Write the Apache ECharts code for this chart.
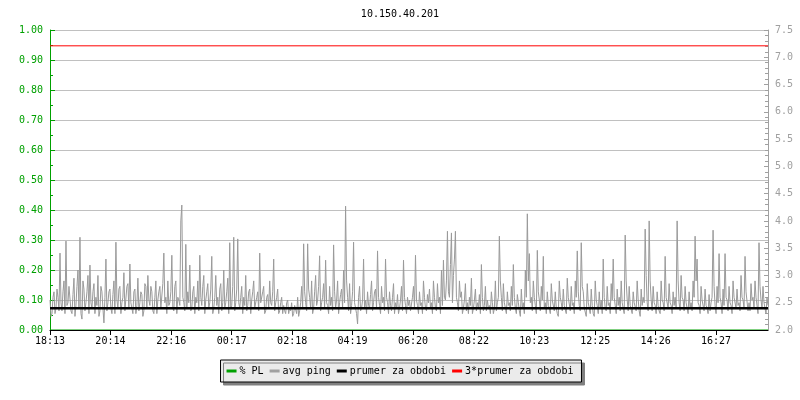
<!DOCTYPE html>
<html>
<head>
<meta charset="utf-8">
<script src="https://cdn.jsdelivr.net/npm/echarts@6/dist/echarts.min.js"></script>
<style>html,body{margin:0;padding:0;background:#fff}#c{width:800px;height:400px}</style>
</head>
<body>
<div id="c"></div>
<script>
const titleText = '10.150.40.201';
const timeLabels = ['18:13','20:14','22:16','00:17','02:18','04:19','06:20','08:22','10:23','12:25','14:26','16:27'];
const tickMinutes = [0,121,243,364,485,606,727,849,970,1092,1213,1334];
const spanMinutes = 1438;
const stepMinutes = 2;
const plValue = 0;
const prumer = 2.40;
const prumer3 = 7.21;
// avg ping samples at even positions
const avgPingEven = [
2.55,2.3,2.7,2.4,2.6,3.41,2.35,2.9,3.63,2.5,
2.8,2.3,2.95,2.45,3.1,3.70,2.2,2.75,2.5,3.0,
3.19,2.4,2.85,2.6,3.0,2.35,2.7,2.13,3.30,2.5,
2.75,2.3,2.9,3.61,2.4,2.8,2.5,3.05,2.35,2.85,
3.21,2.4,2.7,2.3,2.95,2.5,2.65,2.35,2.8,3.0,
2.45,2.7,2.3,2.9,2.55,2.8,2.4,3.41,2.6,2.9,
2.5,3.37,2.35,2.9,2.6,2.45,4.29,2.5,3.57,2.7,
3.19,2.4,2.8,2.6,2.9,3.37,2.45,3.0,2.55,2.85,
2.5,3.35,2.4,3.0,2.6,2.75,2.35,3.1,2.5,2.95,
3.6,2.45,3.70,2.5,3.67,2.4,2.8,2.6,3.0,2.45,
2.75,2.55,2.9,2.4,2.7,3.41,2.5,2.8,2.35,2.65,
2.9,2.45,3.3,2.5,2.75,2.35,2.6,2.45,2.3,2.55,
2.4,2.5,2.3,2.45,2.6,2.35,2.8,3.58,2.5,3.58,
2.6,2.9,2.4,3.0,2.55,3.36,2.5,2.85,3.28,2.45,
2.8,2.6,3.56,2.4,2.9,2.5,2.75,3.1,4.27,2.6,
2.85,2.45,3.61,2.5,2.11,2.8,2.4,3.3,2.55,2.7,
2.4,2.9,2.5,2.75,3.45,2.45,2.8,2.6,3.3,2.5,
2.7,2.35,2.85,2.5,2.65,2.4,2.8,3.28,2.45,2.6,
2.55,2.35,2.8,3.37,2.45,2.7,2.5,2.9,2.4,2.65,
2.75,2.5,2.9,2.4,2.85,2.6,3.1,3.28,2.55,3.81,
2.6,3.78,3.0,3.81,2.5,2.9,2.7,2.4,2.85,2.5,
2.6,2.95,2.4,2.75,2.5,2.65,3.2,2.35,2.8,2.55,
2.45,2.7,2.3,2.9,2.5,3.72,2.6,2.85,2.4,2.7,
2.5,2.8,3.2,2.4,2.65,2.35,2.75,2.5,3.1,4.13,
3.4,2.6,2.9,2.45,3.46,2.55,2.8,3.35,2.5,2.7,
2.4,2.85,2.55,2.7,2.3,2.9,2.5,2.75,2.45,2.95,
2.6,2.8,2.5,2.9,3.45,2.45,3.6,2.7,2.4,2.85,
2.5,2.75,2.3,2.9,2.45,2.7,2.55,3.3,2.4,2.8,
2.5,2.85,3.3,2.45,2.75,2.6,2.9,2.4,3.74,2.55,
2.8,2.45,2.7,2.5,2.9,2.35,2.75,2.6,3.85,2.5,
4.0,2.55,2.8,2.45,2.7,2.35,2.9,2.5,3.35,2.6,
2.85,2.45,2.7,2.6,4.0,2.5,3.0,2.55,2.8,2.4,
2.7,2.5,2.9,3.72,3.3,2.45,2.8,2.55,2.75,2.4,
2.65,2.5,3.83,2.45,2.8,3.4,2.5,2.75,3.4,2.55,
2.8,2.45,2.9,2.6,2.75,2.5,3.0,2.55,3.35,2.7,
2.5,2.85,2.6,2.9,2.45,3.6,2.55,2.8,2.4,2.6
];
// avg ping samples at odd positions
const avgPingOdd = [
2.25,2.6,2.3,2.75,2.35,2.5,2.7,2.3,2.45,2.8,
2.35,2.65,2.25,2.8,2.4,2.3,2.9,2.35,2.7,2.3,
2.5,2.7,2.3,2.45,2.25,2.8,2.4,2.6,2.35,2.7,
2.4,2.65,2.3,2.55,2.75,2.3,2.6,2.35,2.8,2.4,
2.5,2.3,2.75,2.45,2.35,2.7,2.25,2.85,2.4,2.55,
2.8,2.35,2.6,2.3,2.7,2.4,2.85,2.5,2.3,2.45,
2.7,2.4,2.8,2.3,2.55,4.0,2.6,2.35,2.4,2.5,
2.35,2.7,2.3,2.5,2.35,2.6,2.8,2.3,2.7,2.4,
2.75,2.3,2.6,2.45,2.3,2.85,2.5,2.4,2.7,2.3,
2.4,2.8,2.35,2.75,2.5,2.6,2.3,2.45,2.35,2.7,
2.3,2.7,2.4,2.6,2.35,2.5,2.7,2.3,2.6,2.4,
2.5,2.7,2.35,2.6,2.3,2.5,2.3,2.35,2.5,2.3,
2.35,2.25,2.45,2.3,2.25,2.5,2.4,2.7,2.35,2.75,
2.4,2.3,2.7,2.45,2.8,2.35,2.6,2.4,2.5,2.3,
2.45,2.35,2.7,2.55,2.3,2.65,2.4,2.5,2.9,2.35,
2.3,2.7,2.5,2.3,2.6,2.35,2.55,2.4,2.3,2.45,
2.65,2.35,2.7,2.4,2.6,2.3,2.5,2.35,2.6,2.3,
2.45,2.6,2.3,2.4,2.3,2.55,2.35,2.6,2.3,2.45,
2.35,2.6,2.4,2.55,2.3,2.45,2.3,2.6,2.35,2.5,
2.4,2.3,2.6,2.35,2.5,2.3,2.45,2.6,2.9,2.7,
3.2,2.5,3.3,2.6,2.35,2.6,2.3,2.55,2.35,2.3,
2.45,2.3,2.55,2.35,2.4,2.3,2.6,2.45,2.35,2.4,
2.3,2.5,2.4,2.35,2.6,2.9,2.35,2.5,2.3,2.45,
2.35,2.45,2.6,2.3,2.5,2.25,2.4,2.3,2.6,2.9,
2.5,2.35,2.6,2.3,2.7,2.35,2.55,2.4,2.3,2.45,
2.3,2.55,2.35,2.4,2.25,2.6,2.35,2.45,2.3,2.6,
2.35,2.45,2.3,2.6,2.7,2.35,2.8,2.4,2.25,2.5,
2.3,2.45,2.25,2.55,2.3,2.4,2.3,2.6,2.35,2.45,
2.3,2.55,2.6,2.3,2.45,2.35,2.5,2.3,2.9,2.35,
2.45,2.3,2.5,2.35,2.55,2.25,2.45,2.5,3.0,2.35,
2.9,2.35,2.5,2.3,2.45,2.3,2.55,2.35,2.6,2.4,
2.5,2.3,2.45,2.4,2.9,2.35,2.6,2.35,2.5,2.3,
2.4,2.35,2.6,2.9,2.5,2.3,2.55,2.35,2.45,2.3,
2.35,2.6,2.8,2.3,2.5,2.6,2.3,2.45,2.6,2.35,
2.5,2.3,2.6,2.4,2.45,2.35,2.6,2.4,2.7,2.35,
2.35,2.55,2.4,2.6,2.3,2.8,2.4,2.5,2.3,2.45
];

const FONT = 'DejaVu Sans Mono';
const pingData = [];
avgPingEven.forEach((v, i) => {
  pingData.push([(2 * i) * stepMinutes, v]);
  pingData.push([(2 * i + 1) * stepMinutes, avgPingOdd[i]]);
});
const flat = v => [[0, v], [spanMinutes, v]];

const chart = echarts.init(document.getElementById('c'), null, {renderer: 'canvas'});
chart.setOption({
  animation: false,
  backgroundColor: '#ffffff',
  title: {
    text: titleText, left: 'center', top: 4,
    textStyle: {fontFamily: FONT, fontSize: 10, fontWeight: 'normal', color: '#000'}
  },
  grid: {left: 50, right: 32, top: 30, bottom: 70, containLabel: false},
  legend: {
    top: 360, left: 'center',
    backgroundColor: '#ebebeb', borderColor: '#000', borderWidth: 1, borderRadius: 0,
    shadowColor: '#808080', shadowBlur: 0, shadowOffsetX: 3, shadowOffsetY: 3,
    padding: [6, 8, 6, 6],
    itemWidth: 10, itemHeight: 3, itemGap: 6, icon: 'rect',
    textStyle: {fontFamily: FONT, fontSize: 10, color: '#000', padding: [0, 0, 0, -2]},
    data: ['% PL', 'avg ping', 'prumer za obdobi', '3*prumer za obdobi']
  },
  xAxis: {
    type: 'value', min: 0, max: spanMinutes, z: 5,
    axisLine: {lineStyle: {color: '#000', width: 1}},
    axisTick: {show: true, customValues: tickMinutes, length: 5, lineStyle: {color: '#000'}},
    axisLabel: {
      customValues: tickMinutes, fontFamily: FONT, fontSize: 10, color: '#000', margin: 6,
      formatter: v => timeLabels[tickMinutes.indexOf(v)] || ''
    },
    splitLine: {show: false}
  },
  yAxis: [
    {
      type: 'value', min: 0, max: 1, interval: 0.1, position: 'left',
      axisLine: {show: true, lineStyle: {color: '#00a000'}},
      axisTick: {show: true, inside: true, length: 5, lineStyle: {color: '#00a000'}},
      minorTick: {show: true, splitNumber: 2, length: 3, lineStyle: {color: '#00a000'}},
      axisLabel: {fontFamily: FONT, fontSize: 10, color: '#00a000', margin: 7, formatter: v => v.toFixed(2)},
      splitLine: {show: true, lineStyle: {color: '#c0c0c0', width: 1}}
    },
    {
      type: 'value', min: 2, max: 7.5, interval: 0.5, position: 'right',
      axisLine: {show: true, lineStyle: {color: '#a0a0a0'}},
      axisTick: {show: true, inside: true, length: 4, lineStyle: {color: '#a0a0a0'}},
      minorTick: {show: true, splitNumber: 5, length: 3, lineStyle: {color: '#a0a0a0'}},
      axisLabel: {fontFamily: FONT, fontSize: 10, color: '#a0a0a0', margin: 7, formatter: v => v.toFixed(1)},
      splitLine: {show: false}
    }
  ],
  series: [
    {
      name: '% PL', type: 'line', yAxisIndex: 0, data: flat(plValue), showSymbol: false, z: 1,
      lineStyle: {color: '#00a000', width: 1}, itemStyle: {color: '#00a000'}
    },
    {
      name: 'avg ping', type: 'line', yAxisIndex: 1, data: pingData, showSymbol: false, z: 2,
      lineStyle: {color: '#9a9a9a', width: 1}, itemStyle: {color: '#a0a0a0'}
    },
    {
      name: 'prumer za obdobi', type: 'line', yAxisIndex: 1, data: flat(prumer), showSymbol: false, z: 3,
      lineStyle: {color: '#000', width: 2.5}, itemStyle: {color: '#000'}
    },
    {
      name: '3*prumer za obdobi', type: 'line', yAxisIndex: 1, data: flat(prumer3), showSymbol: false, z: 3,
      lineStyle: {color: '#ff0000', width: 1}, itemStyle: {color: '#ff0000'}
    }
  ]
});
</script>
</body>
</html>
